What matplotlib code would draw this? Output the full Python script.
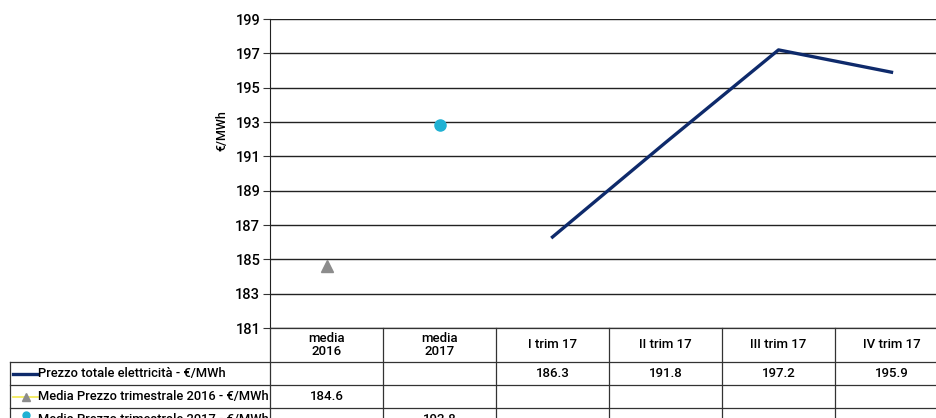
import numpy as np
import matplotlib
matplotlib.use("Agg")
import matplotlib.pyplot as plt
from matplotlib.lines import Line2D
from matplotlib.transforms import blended_transform_factory

plt.rcParams['font.family'] = ['Roboto', 'DejaVu Sans']
plt.rcParams['font.weight'] = 'medium'

categories = ["media\n2016", "media\n2017", "I trim 17", "II trim 17", "III trim 17", "IV trim 17"]
prezzo_totale = [np.nan, np.nan, 186.3, 191.8, 197.2, 195.9]
media_2016 = [184.6, np.nan, np.nan, np.nan, np.nan, np.nan]
media_2017 = [np.nan, 192.8, np.nan, np.nan, np.nan, np.nan]
series_labels = ["Prezzo totale elettricità - €/MWh",
                 "Media Prezzo trimestrale 2016 - €/MWh",
                 "Media Prezzo trimestrale 2017 - €/MWh"]
yticks = [181, 183, 185, 187, 189, 191, 193, 195, 197, 199]

LINE_C = "#0E2A6B"
TRI_C = "#8C8C8C"
DOT_C = "#1FB1D3"

W, H = 936, 418
fig = plt.figure(figsize=(W / 100, H / 100), dpi=100)
ax_left, ax_right = 270, 948
ax_top, ax_bot = 19, 328
ax = fig.add_axes([ax_left / W, 1 - ax_bot / H, (ax_right - ax_left) / W, (ax_bot - ax_top) / H])

x = np.arange(len(categories))
ax.set_xlim(-0.5, len(categories) - 0.5)
ax.set_ylim(181, 199)
ax.set_yticks(yticks)
ax.set_yticklabels([str(v) for v in yticks], fontsize=10.5, fontweight='medium')
ax.tick_params(axis='y', length=5, width=0.8, pad=2, color="#333333")
ax.set_xticks([])
for y in yticks:
    ax.axhline(y, color="#222222", lw=1.0, zorder=1)
for s in ["top", "right", "bottom"]:
    ax.spines[s].set_visible(False)
ax.spines["left"].set_color("#222222")
ax.set_ylabel("€/MWh", fontsize=9, labelpad=3, fontweight='medium')
ax.yaxis.set_label_coords(-0.062, 0.64)

ax.plot(x, prezzo_totale, color=LINE_C, lw=2.4, zorder=3)
ax.plot(x, media_2016, linestyle="none", marker="^", color=TRI_C, ms=9, zorder=3)
ax.plot(x, media_2017, linestyle="none", marker="o", color=DOT_C, ms=8, zorder=3)

def fy(py):
    return 1 - py / H

def fx(px):
    return px / W

col_edges_data = np.arange(len(categories) + 1) - 0.5
trans = blended_transform_factory(ax.transData, fig.transFigure)
row_edges = [328, 362, 385, 408, 431]
lc = "#333333"
lw = 0.9

fig.add_artist(Line2D([fx(ax_left), fx(ax_right)], [fy(328), fy(328)], color=lc, lw=lw))
for ry in row_edges[1:]:
    fig.add_artist(Line2D([fx(10), fx(ax_right)], [fy(ry), fy(ry)], color=lc, lw=lw))
for ce in col_edges_data:
    fig.add_artist(Line2D([ce, ce], [fy(328), fy(431)], color=lc, lw=lw, transform=trans))
fig.add_artist(Line2D([fx(10), fx(10)], [fy(362), fy(431)], color=lc, lw=lw))

for i, c in enumerate(categories):
    fig.text(x[i], fy(345), c, transform=trans, ha="center", va="center",
             fontsize=9.5, linespacing=1.0, fontweight='medium')

rows = [prezzo_totale, media_2016, media_2017]
for r, vals in enumerate(rows):
    cy = fy((row_edges[r + 1] + row_edges[r + 2]) / 2)
    for i, v in enumerate(vals):
        if not np.isnan(v):
            fig.text(x[i], cy, f"{v:.1f}", transform=trans, ha="center", va="center",
                     fontsize=9.5, fontweight='medium')
    fig.text(fx(38), cy, series_labels[r], ha="left", va="center", fontsize=9.3,
             fontweight='medium')

cy1 = fy(373.5)
fig.add_artist(Line2D([fx(13), fx(38)], [cy1, cy1], color=LINE_C, lw=2.4))
cy2 = fy(396.5)
fig.add_artist(Line2D([fx(13), fx(38)], [cy2, cy2], color="#F2E94E", lw=1.2))
fig.add_artist(Line2D([fx(25.5)], [cy2], marker="^", color=TRI_C, ms=6, linestyle="none"))
cy3 = fy(415)
fig.add_artist(Line2D([fx(25.5)], [cy3], marker="o", color=DOT_C, ms=5, linestyle="none"))

fig.savefig("out.png", dpi=100)
